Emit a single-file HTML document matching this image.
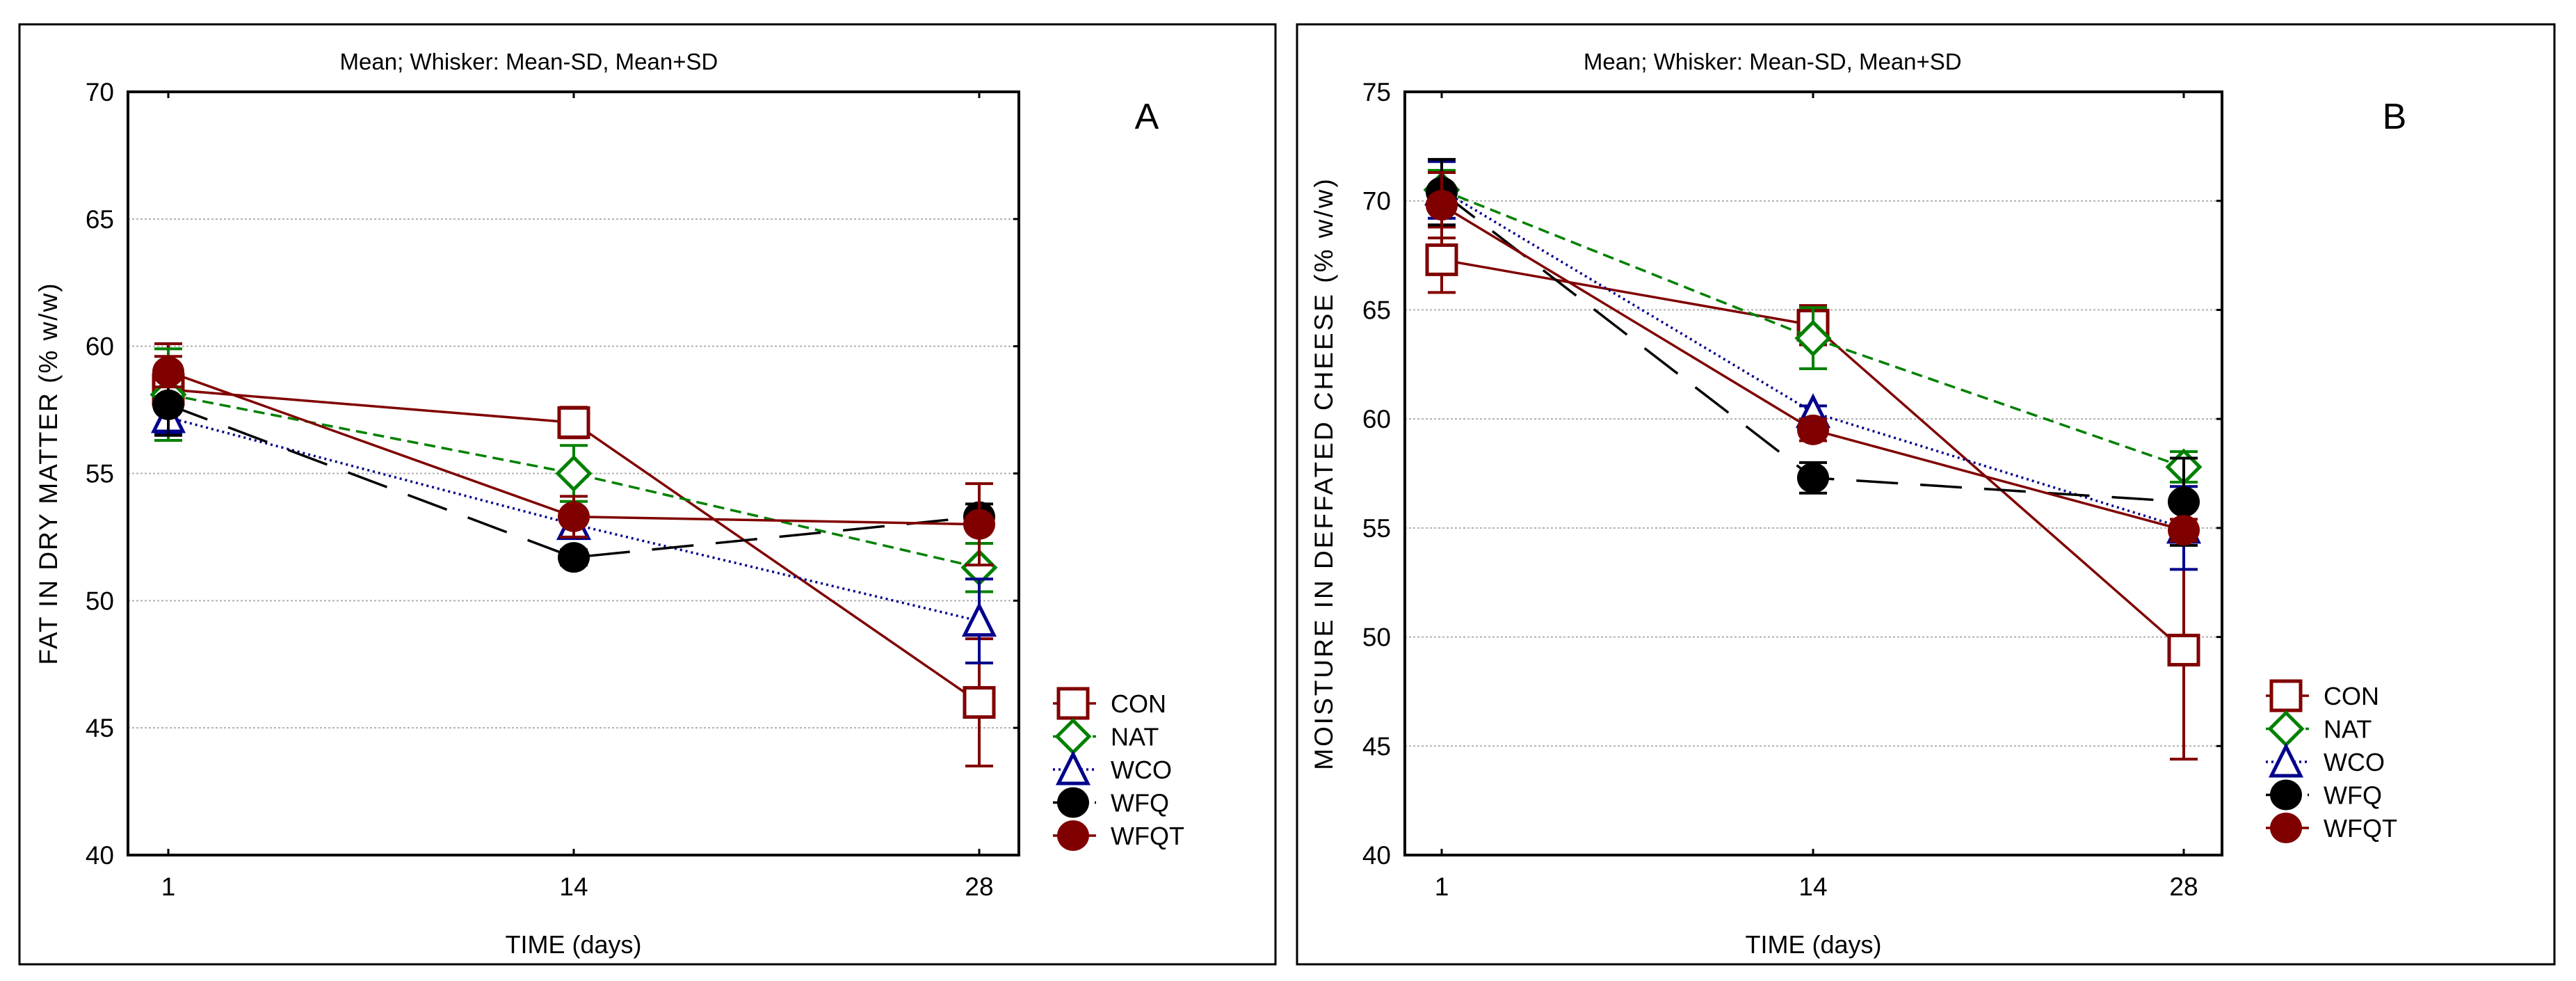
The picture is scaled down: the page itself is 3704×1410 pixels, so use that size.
<!DOCTYPE html>
<html><head><meta charset="utf-8"><style>
html,body{margin:0;padding:0;background:#fff;}
svg{display:block;font-family:"Liberation Sans",Arial,sans-serif;}
</style></head>
<body>
<svg id="chart" width="3704" height="1410" viewBox="0 0 3704 1410" xmlns="http://www.w3.org/2000/svg"></svg>
<script>
// ---- data ----
const categories = ["1","14","28"];
const seriesNames = ["CON","NAT","WCO","WFQ","WFQT"];
// Panel A: fat in dry matter
const conA = [58.3, 57.0, 46.0];
const natA = [58.1, 55.0, 51.3];
const wcoA = [57.2, 53.0, 49.2];
const wfqA = [57.7, 51.7, 53.3];
const wfqtA = [59.0, 53.3, 53.0];
const conSdA = [1.8, 0.6, 2.5];
const natSdA = [1.8, 1.1, 0.95];
const wcoSdA = [0.6, 0.4, 1.65];
const wfqSdA = [1.2, 0.3, 0.5];
const wfqtSdA = [0.6, 0.8, 1.6];
const yTicksA = [40, 45, 50, 55, 60, 65, 70];
// Panel B: moisture in defatted cheese
const conB = [67.3, 64.3, 49.4];
const natB = [70.5, 63.7, 57.8];
const wcoB = [70.5, 60.3, 55.0];
const wfqB = [70.4, 57.3, 56.2];
const wfqtB = [69.8, 59.5, 54.9];
const conSdB = [1.5, 0.9, 5.0];
const natSdB = [0.9, 1.4, 0.7];
const wcoSdB = [1.3, 0.3, 1.9];
const wfqSdB = [1.5, 0.7, 2.0];
const wfqtSdB = [1.5, 0.5, 0.5];
const yTicksB = [40, 45, 50, 55, 60, 65, 70, 75];

const svg = document.getElementById('chart');
const NS = 'http://www.w3.org/2000/svg';
function mk(tag, attrs, parent){
  const e = document.createElementNS(NS, tag);
  for (const k in attrs) e.setAttribute(k, attrs[k]);
  (parent||svg).appendChild(e);
  return e;
}
const styles = {
  CON:{color:'#800000', dash:'', marker:'square'},
  NAT:{color:'#008000', dash:'16 9', marker:'diamond'},
  WCO:{color:'#00008B', dash:'3 5', marker:'triangle'},
  WFQ:{color:'#000000', dash:'60 32', marker:'circle'},
  WFQT:{color:'#800000', dash:'', marker:'circle'}
};

function drawMarker(g, type, cx, cy, color, name){
  let m;
  if (type==='square') m = mk('rect',{x:cx-21,y:cy-21,width:42,height:42,fill:'#fff',stroke:color,'stroke-width':5},g);
  else if (type==='diamond') m = mk('polygon',{points:`${cx},${cy-23} ${cx+23},${cy} ${cx},${cy+23} ${cx-23},${cy}`,fill:'#fff',stroke:color,'stroke-width':5},g);
  else if (type==='triangle') m = mk('polygon',{points:`${cx},${cy-22} ${cx+21},${cy+20} ${cx-21},${cy+20}`,fill:'#fff',stroke:color,'stroke-width':5},g);
  else m = mk('ellipse',{cx:cx,cy:cy,rx:23,ry:22,fill:color},g);
  
  
  return m;
}

function panel(cfg){
  const {id, border, L, R, T, B, xPos, yMin, yMax, yTicks, means, sds, title, ytitle, ytx, ysp, letter, letterX, legX, legY0} = cfg;
  const g = mk('g',{});
  
  
  const Y = v => B - (v - yMin) / (yMax - yMin) * (B - T);
  const X = i => xPos[i];
  const fr = mk('rect',{x:border[0],y:border[1],width:border[2]-border[0],height:border[3]-border[1],fill:'none',stroke:'#000','stroke-width':3},g);
  
  
  const t = mk('text',{x:(L+R)/2-(R-L)*0.05,y:100,'font-size':33,'text-anchor':'middle',fill:'#000'},g);
  t.textContent = title;
  
  
  yTicks.forEach(v=>{
    const y = Y(v);
    if (v!==yMin && v!==yMax){
      const gl = mk('line',{x1:L,x2:R,y1:y,y2:y,stroke:'#b0b0b0','stroke-width':2,'stroke-dasharray':'3 3'},g);
      
      
    }
    mk('line',{x1:R-8,x2:R,y1:y,y2:y,stroke:'#000','stroke-width':3},g);
    const tl = mk('text',{x:L-20,y:y+13,'font-size':37,'text-anchor':'end',fill:'#000'},g);
    tl.textContent = v;
    
    
  });
  categories.forEach((c,i)=>{
    mk('line',{x1:X(i),x2:X(i),y1:B,y2:B-9,stroke:'#000','stroke-width':3},g);
    mk('line',{x1:X(i),x2:X(i),y1:T,y2:T+9,stroke:'#000','stroke-width':3},g);
    const xl = mk('text',{x:X(i),y:1287,'font-size':37,'text-anchor':'middle',fill:'#000'},g);
    xl.textContent = c;
    
    
  });
  const ax = mk('rect',{x:L,y:T,width:R-L,height:B-T,fill:'none',stroke:'#000','stroke-width':4},g);
  
  
  const xt = mk('text',{x:(L+R)/2,y:1370,'font-size':36,'text-anchor':'middle',fill:'#000'},g);
  xt.textContent = 'TIME (days)';
  
  
  const yt = mk('text',{x:0,y:0,'font-size':37,'text-anchor':'middle',fill:'#000','letter-spacing':ysp,'xml:space':'preserve',transform:`translate(${ytx},${(T+B)/2}) rotate(-90)`},g);
  yt.textContent = ytitle;
  
  
  const lt = mk('text',{x:letterX,y:185,'font-size':52,'text-anchor':'middle',fill:'#000'},g);
  lt.textContent = letter;
  
  
  seriesNames.forEach((s,k)=>{
    const st = styles[s];
    const sg = mk('g',{},g);
    
    
    const pts = means[k].map((v,i)=>`${X(i)},${Y(v)}`).join(' ');
    const pl = mk('polyline',{points:pts,fill:'none',stroke:st.color,'stroke-width':3.5,'stroke-dasharray':st.dash},sg);
    
    
    means[k].forEach((v,i)=>{
      const sd = sds[k][i];
      const y1 = Y(v+sd), y2 = Y(v-sd), x = X(i);
      const eb = mk('path',{d:`M${x},${y1}V${y2}M${x-20},${y1}H${x+20}M${x-20},${y2}H${x+20}`,stroke:st.color,'stroke-width':4,fill:'none'},sg);
      
      
    });
    means[k].forEach((v,i)=>drawMarker(sg, st.marker, X(i), Y(v), st.color, 'point-'+s.toLowerCase()));
    const ly = legY0 + k*47.5;
    const lg = mk('g',{},g);
    
    
    mk('line',{x1:legX-29,x2:legX+33,y1:ly,y2:ly,stroke:st.color,'stroke-width':3.5,'stroke-dasharray':st.dash?st.dash.split(' ').map(n=>Math.min(+n,10)).join(' '):''},lg);
    drawMarker(lg, st.marker, legX, ly, st.color, 'legend-marker');
    const ll = mk('text',{x:legX+54,y:ly+13,'font-size':36,fill:'#000'},lg);
    ll.textContent = s;
  });
}

panel({id:'panel-a', border:[28,35,1834,1386], L:184, R:1465, T:132, B:1229, xPos:[242,825,1408],
  yMin:40, yMax:70, yTicks:yTicksA,
  means:[conA,natA,wcoA,wfqA,wfqtA], sds:[conSdA,natSdA,wcoSdA,wfqSdA,wfqtSdA],
  title:'Mean;  Whisker: Mean-SD, Mean+SD', ytitle:'FAT IN DRY MATTER  (% w/w)', ytx:82, ysp:2,
  letter:'A', letterX:1649, legX:1543, legY0:1011});
panel({id:'panel-b', border:[1865,35,3673,1386], L:2020, R:3195, T:132, B:1229, xPos:[2073,2607,3140],
  yMin:40, yMax:75, yTicks:yTicksB,
  means:[conB,natB,wcoB,wfqB,wfqtB], sds:[conSdB,natSdB,wcoSdB,wfqSdB,wfqtSdB],
  title:'Mean;  Whisker: Mean-SD, Mean+SD', ytitle:'MOISTURE  IN  DEFFATED  CHEESE  (% w/w)', ytx:1916, ysp:3,
  letter:'B', letterX:3443, legX:3287, legY0:1000});
</script>
</body></html>
